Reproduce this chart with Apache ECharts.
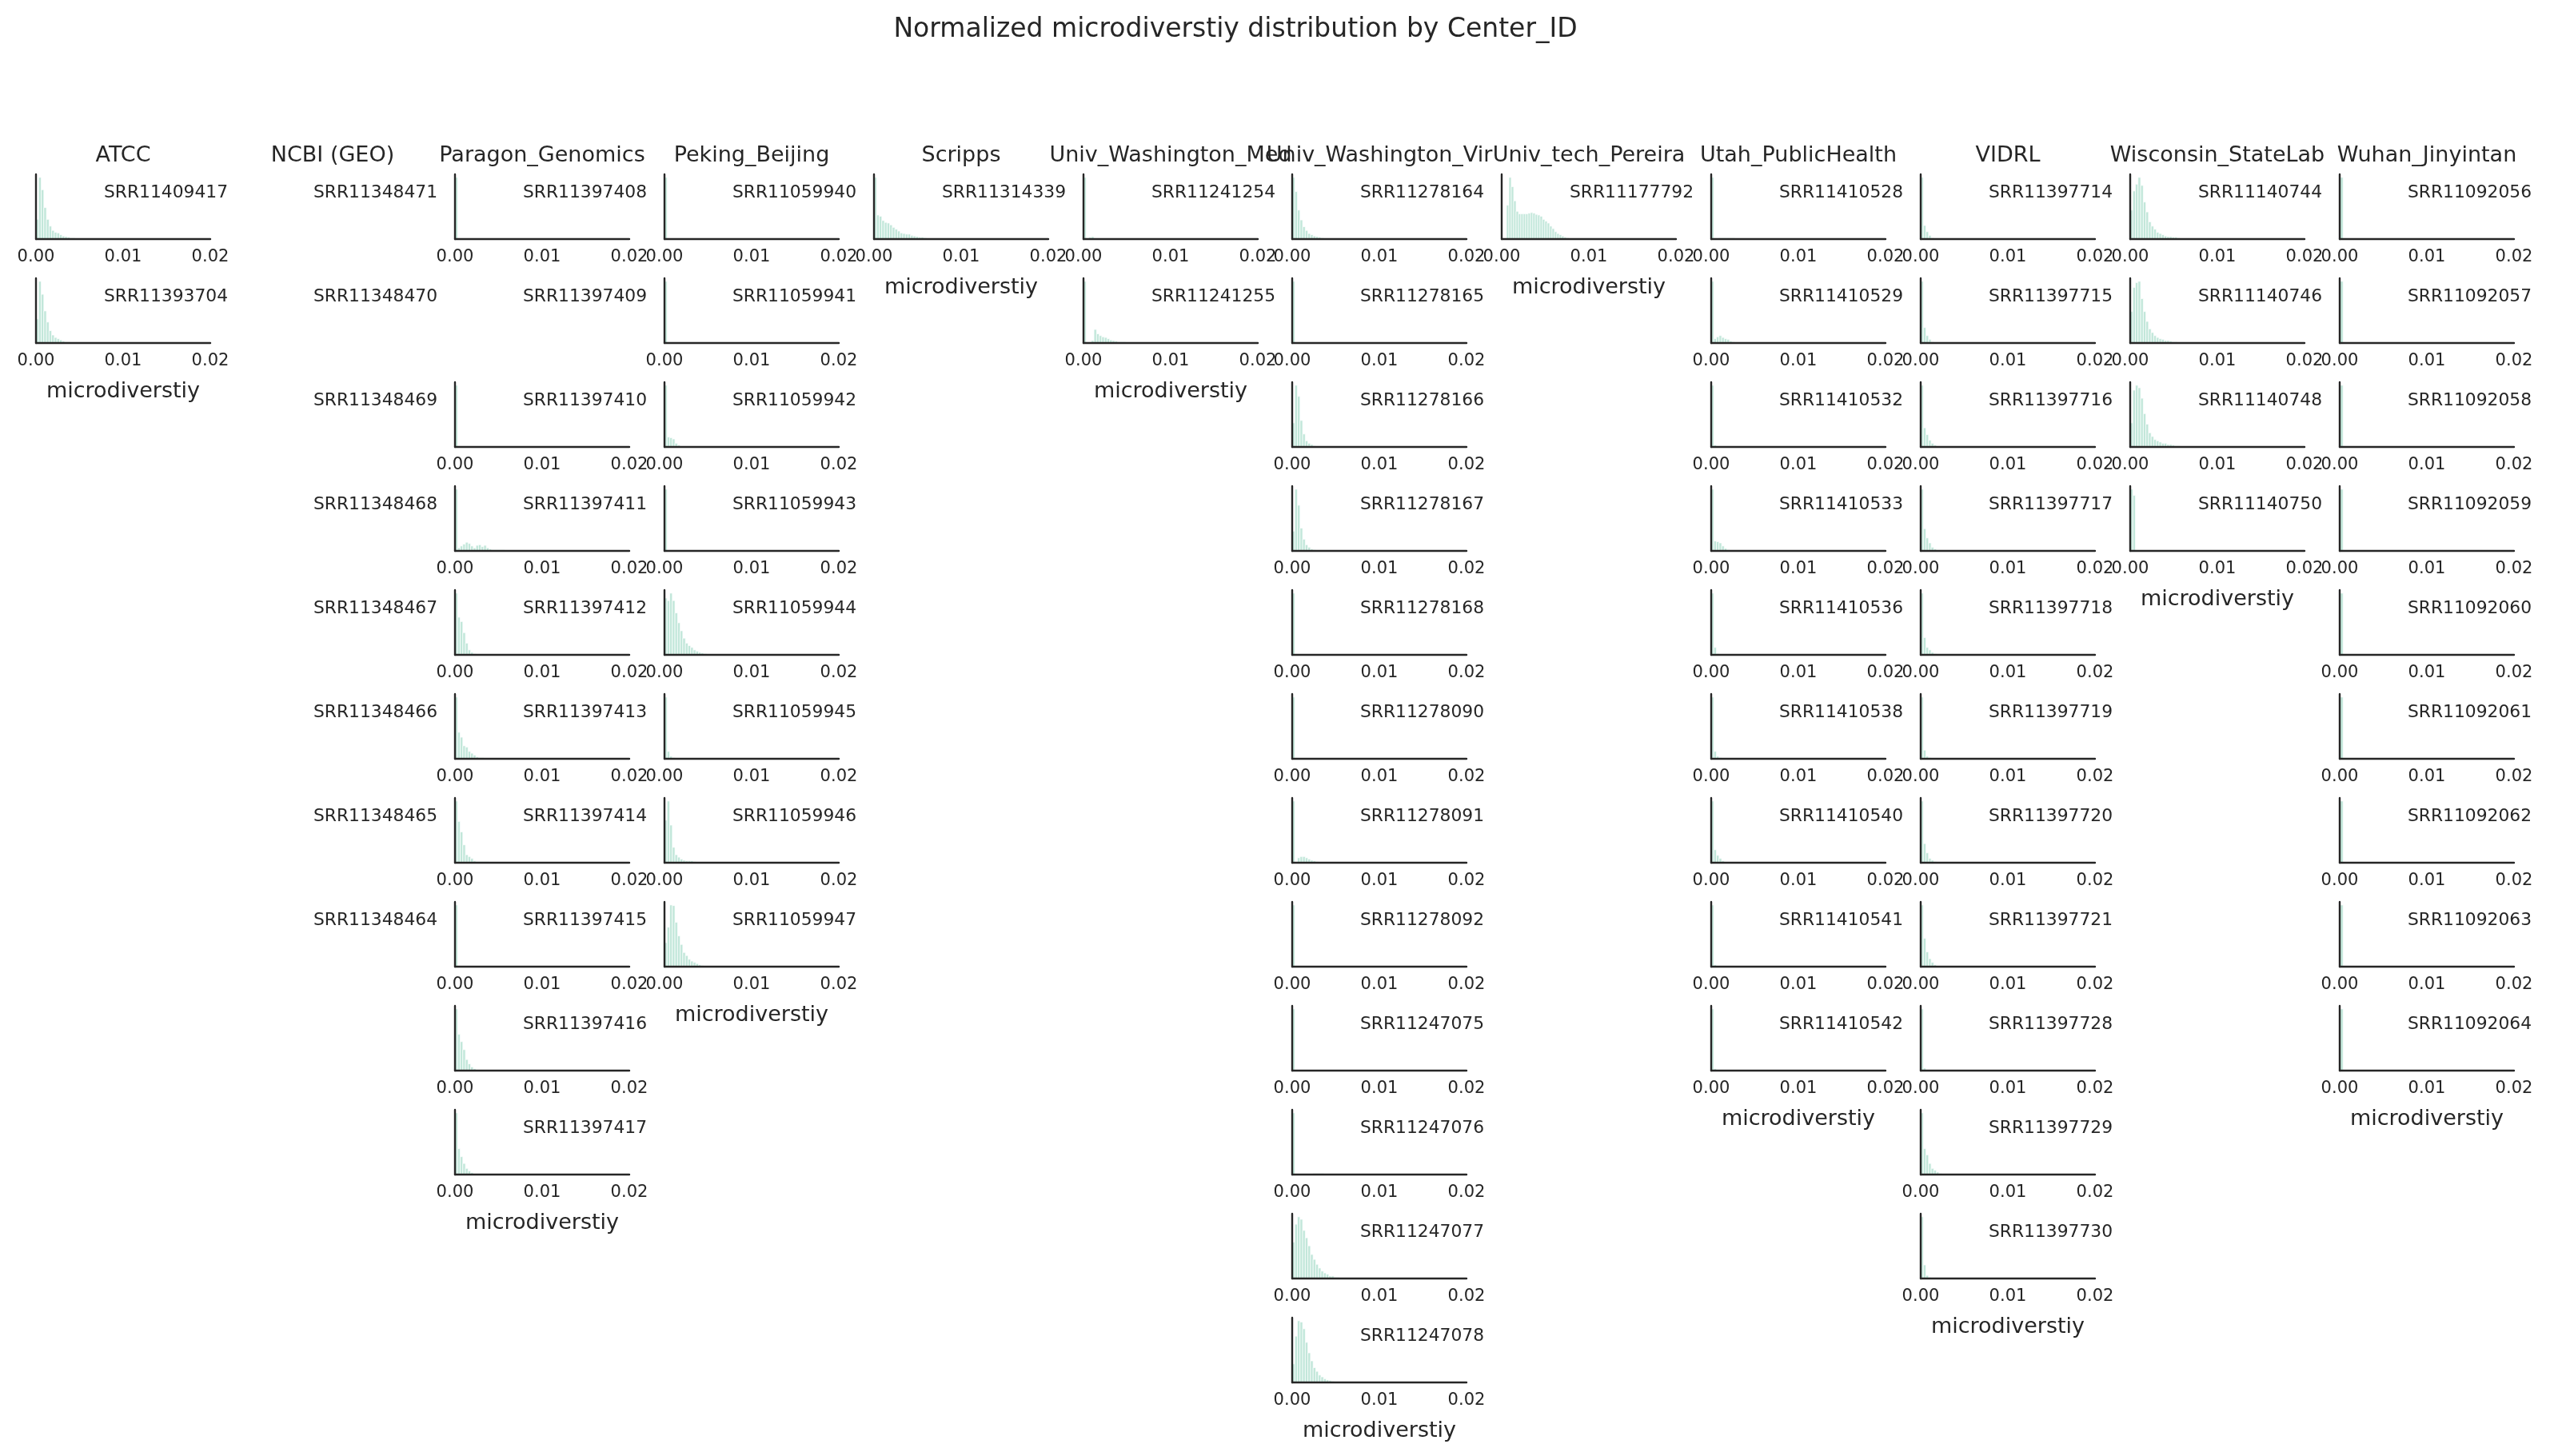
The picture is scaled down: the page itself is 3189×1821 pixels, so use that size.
<!DOCTYPE html>
<html>
<head>
<meta charset="utf-8">
<script src="https://cdn.jsdelivr.net/npm/echarts@6/dist/echarts.min.js"></script>
<style>
html,body{margin:0;padding:0;background:#fff;}
#chart{width:3189px;height:1821px;}
</style>
</head>
<body>
<div id="chart"></div>
<script>
// ---------------- DATA ----------------
const TITLE = 'Normalized microdiverstiy distribution by Center_ID';
const X_LABEL = 'microdiverstiy';
const X_TICKS = [0, 0.01, 0.02];

const CENTERS = ['ATCC', 'NCBI (GEO)', 'Paragon_Genomics', 'Peking_Beijing', 'Scripps',
  'Univ_Washington_Med', 'Univ_Washington_Vir', 'Univ_tech_Pereira', 'Utah_PublicHealth',
  'VIDRL', 'Wisconsin_StateLab', 'Wuhan_Jinyintan'];
// histogram bin width per center (bins start at 0)
const BIN_WIDTH = [0.0003, 0.0003, 0.0003, 0.0003, 0.0003, 0.0003, 0.0003, 0.000275, 0.0003, 0.0003, 0.0003, 0.0004];

// bar heights, relative (tallest bar = 100); null = empty panel
const RUNS_ATCC = ['SRR11409417', 'SRR11393704'];
const HIST_ATCC = [
  [32, 100, 80, 51, 32, 21, 14, 11, 10, 7, 5, 4, 3, 2, 2, 1, 1],
  [39, 100, 79, 52, 34, 20, 13, 9, 7, 5, 3, 2, 2, 1, 1]
];

const RUNS_NCBI = ['SRR11348471', 'SRR11348470', 'SRR11348469', 'SRR11348468',
  'SRR11348467', 'SRR11348466', 'SRR11348465', 'SRR11348464'];
const HIST_NCBI = [null, null, null, null, null, null, null, null];

const RUNS_PARAGON = ['SRR11397408', 'SRR11397409', 'SRR11397410', 'SRR11397411', 'SRR11397412',
  'SRR11397413', 'SRR11397414', 'SRR11397415', 'SRR11397416', 'SRR11397417'];
const HIST_PARAGON = [
  [100],
  null,
  [100],
  [100, 5, 8, 11, 14, 12, 8, 5, 9, 10, 7, 9, 5, 3, 2, 2, 2, 2, 2, 1],
  [100, 61, 54, 36, 19, 8, 4, 2],
  [100, 43, 35, 21, 19, 12, 9, 6, 3, 2, 2, 1, 1],
  [100, 67, 50, 29, 13, 10, 7, 3, 2, 2, 2, 2, 2, 1, 1],
  [100, 1, 1, 1, 1, 0.5, 0.5, 0.5, 0.5, 0.5, 0.5],
  [100, 59, 47, 34, 18, 11, 6, 3, 1],
  [100, 42, 29, 18, 10, 6, 3, 1]
];

const RUNS_PEKING = ['SRR11059940', 'SRR11059941', 'SRR11059942', 'SRR11059943',
  'SRR11059944', 'SRR11059945', 'SRR11059946', 'SRR11059947'];
const HIST_PEKING = [
  [100],
  [100],
  [100, 16, 15, 13, 6, 3, 1, 1, 1, 1],
  [100, 1],
  [92, 88, 100, 88, 68, 52, 39, 27, 19, 15, 12, 8, 6, 4, 3, 2, 1],
  [100, 12, 4, 2, 1],
  [69, 100, 61, 25, 13, 9, 6, 4, 3, 3, 3, 2, 1],
  [39, 64, 100, 99, 72, 50, 36, 23, 18, 12, 9, 7, 5, 3, 2, 1]
];

const RUNS_SCRIPPS = ['SRR11314339'];
const HIST_SCRIPPS = [
  [100, 39, 37, 30, 27, 26, 23, 19, 16, 13, 10, 9, 8, 8, 6, 5, 4, 3, 3, 2, 1, 1, 1, 1]
];

const RUNS_UW_MED = ['SRR11241254', 'SRR11241255'];
const HIST_UW_MED = [
  [100, 0, 3, 4, 1],
  [100, 0, 0, 4, 22, 15, 12, 10, 9, 7, 5, 4, 3, 2, 2, 2, 1, 1, 1]
];

const RUNS_UW_VIR = ['SRR11278164', 'SRR11278165', 'SRR11278166', 'SRR11278167', 'SRR11278168',
  'SRR11278090', 'SRR11278091', 'SRR11278092', 'SRR11247075', 'SRR11247076', 'SRR11247077', 'SRR11247078'];
const HIST_UW_VIR = [
  [100, 77, 47, 31, 20, 14, 9, 7, 5, 4, 3, 2, 1, 1],
  [100],
  [39, 100, 82, 43, 21, 10, 6, 4, 2, 1, 1, 1],
  [32, 100, 74, 37, 19, 10, 6, 3, 2, 1, 1],
  [100],
  [100],
  [100, 0, 8, 10, 10, 8, 6, 4, 3, 2, 1],
  [100],
  [100],
  [100, 0, 0, 0, 0, 0, 1, 1, 2, 2, 2, 2, 1, 1],
  [59, 88, 100, 96, 78, 66, 53, 39, 31, 23, 17, 12, 9, 7, 4, 4, 2, 2, 1, 1, 1],
  [30, 75, 100, 98, 87, 65, 48, 35, 24, 18, 12, 9, 6, 4, 3, 2, 1]
];

const RUNS_PEREIRA = ['SRR11177792'];
const HIST_PEREIRA = [
  [0, 0, 55, 100, 85, 62, 45, 41, 41, 41, 41, 42, 43, 42, 40, 39, 37, 32, 29, 26, 21, 17, 12, 9, 7, 5, 3, 2, 1, 1, 0.5, 0.5]
];

const RUNS_UTAH = ['SRR11410528', 'SRR11410529', 'SRR11410532', 'SRR11410533', 'SRR11410536',
  'SRR11410538', 'SRR11410540', 'SRR11410541', 'SRR11410542'];
const HIST_UTAH = [
  [100, 0, 1, 2, 2, 2, 2, 2, 2, 1, 1, 1],
  [100, 7, 10, 12, 9, 7, 6, 3, 2, 1],
  [100, 3, 1],
  [100, 16, 15, 13, 8, 4, 2, 1],
  [100, 12, 2, 1],
  [100, 12, 4, 2, 1],
  [100, 21, 12, 7, 3, 1],
  [100, 3, 1],
  [100, 3, 1]
];

const RUNS_VIDRL = ['SRR11397714', 'SRR11397715', 'SRR11397716', 'SRR11397717', 'SRR11397718',
  'SRR11397719', 'SRR11397720', 'SRR11397721', 'SRR11397728', 'SRR11397729', 'SRR11397730'];
const HIST_VIDRL = [
  [100, 22, 12, 6, 2, 1],
  [100, 25, 12, 6, 2, 1],
  [100, 31, 20, 11, 6, 3, 1],
  [100, 36, 21, 13, 6, 3, 1],
  [100, 28, 12, 8, 4, 2, 1],
  [100, 14, 4, 2, 1],
  [100, 31, 16, 7, 4, 2, 1],
  [100, 46, 24, 13, 7, 3, 1],
  [100, 4, 1],
  [100, 42, 32, 18, 10, 7, 4, 2, 1],
  [100, 22, 5, 2, 1]
];

const RUNS_WISCONSIN = ['SRR11140744', 'SRR11140746', 'SRR11140748', 'SRR11140750'];
const HIST_WISCONSIN = [
  [47, 78, 89, 100, 87, 60, 44, 28, 21, 16, 11, 9, 7, 5, 4, 4, 3, 3, 2, 1, 1, 1],
  [51, 90, 98, 100, 72, 51, 35, 23, 17, 12, 9, 7, 6, 4, 4, 3, 2, 2, 1],
  [39, 92, 100, 96, 79, 54, 37, 23, 17, 12, 10, 8, 6, 6, 4, 4, 3, 2, 2, 1],
  [100, 90, 0.5]
];

const RUNS_WUHAN = ['SRR11092056', 'SRR11092057', 'SRR11092058', 'SRR11092059', 'SRR11092060',
  'SRR11092061', 'SRR11092062', 'SRR11092063', 'SRR11092064'];
const HIST_WUHAN = [[100], [100], [100], [100], [100], [100], [100], [100], [100]];

const COLUMNS = [
  [RUNS_ATCC, HIST_ATCC], [RUNS_NCBI, HIST_NCBI], [RUNS_PARAGON, HIST_PARAGON],
  [RUNS_PEKING, HIST_PEKING], [RUNS_SCRIPPS, HIST_SCRIPPS], [RUNS_UW_MED, HIST_UW_MED],
  [RUNS_UW_VIR, HIST_UW_VIR], [RUNS_PEREIRA, HIST_PEREIRA], [RUNS_UTAH, HIST_UTAH],
  [RUNS_VIDRL, HIST_VIDRL], [RUNS_WISCONSIN, HIST_WISCONSIN], [RUNS_WUHAN, HIST_WUHAN]
];

// ---------------- LAYOUT ----------------
const FONT = '"DejaVu Sans", "Noto Sans", sans-serif';
const INK = '#262626';
const BAR_FILL = '#c2e7da';
const COL0 = 45, COL_STEP = 261.9, PANEL_W = 218;
const ROW0 = 218, ROW_STEP = 130.0, PANEL_H = 81;

const grids = [], xAxes = [], yAxes = [], series = [], graphics = [];

graphics.push({
  type: 'text', x: 1545, y: 37,
  style: { text: TITLE, font: '33px ' + FONT, fill: INK, textAlign: 'center', textVerticalAlign: 'middle' }
});

COLUMNS.forEach(([runs, hists], c) => {
  const left = Math.round(COL0 + c * COL_STEP);
  const bw = BIN_WIDTH[c];
  graphics.push({
    type: 'text', x: left + PANEL_W / 2, y: 195,
    style: { text: CENTERS[c], font: '27px ' + FONT, fill: INK, textAlign: 'center', textVerticalAlign: 'middle' }
  });
  runs.forEach((run, r) => {
    const top = Math.round(ROW0 + r * ROW_STEP);
    graphics.push({
      type: 'text', x: left + 240, y: top + 23, z: 10,
      style: { text: run, font: '21.8px ' + FONT, fill: INK, textAlign: 'right', textVerticalAlign: 'middle' }
    });
    const h = hists[r];
    if (!h) return;
    const gi = grids.length;
    const isLast = r === runs.length - 1;
    grids.push({ left: left, top: top, width: PANEL_W, height: PANEL_H, outerBoundsMode: 'none' });
    xAxes.push({
      gridIndex: gi, type: 'value', min: X_TICKS[0], max: X_TICKS[X_TICKS.length - 1],
      interval: X_TICKS[1] - X_TICKS[0], z: 5,
      axisLine: { show: true, lineStyle: { color: INK, width: 2.4 } },
      axisTick: { show: false }, splitLine: { show: false },
      axisLabel: { show: true, margin: 12, fontSize: 21, color: INK, fontFamily: FONT,
        formatter: v => v.toFixed(2), showMinLabel: true, showMaxLabel: true },
      name: isLast ? X_LABEL : '', nameLocation: 'middle', nameGap: 47,
      nameTextStyle: { fontSize: 27, color: INK, fontFamily: FONT }
    });
    yAxes.push({
      gridIndex: gi, type: 'value', min: 0, max: 105, z: 5,
      axisLine: { show: true, lineStyle: { color: INK, width: 2.4 } },
      axisTick: { show: false }, splitLine: { show: false }, axisLabel: { show: false }
    });
    const data = [];
    h.forEach((v, i) => { if (v > 0) data.push([i * bw, (i + 1) * bw, v]); });
    series.push({
      type: 'custom', xAxisIndex: gi, yAxisIndex: gi, z: 2, clip: true,
      encode: { x: [0, 1], y: 2 },
      data: data,
      renderItem: function (params, api) {
        const p0 = api.coord([api.value(0), api.value(2)]);
        const p1 = api.coord([api.value(1), 0]);
        return {
          type: 'rect',
          shape: { x: p0[0], y: p0[1], width: p1[0] - p0[0], height: p1[1] - p0[1] },
          style: { fill: BAR_FILL, stroke: '#ffffff', lineWidth: 0.7 }
        };
      }
    });
  });
});

const chart = echarts.init(document.getElementById('chart'), null, { renderer: 'canvas' });
chart.setOption({
  backgroundColor: '#ffffff',
  animation: false,
  grid: grids,
  xAxis: xAxes,
  yAxis: yAxes,
  series: series,
  graphic: graphics
});
</script>
</body>
</html>
